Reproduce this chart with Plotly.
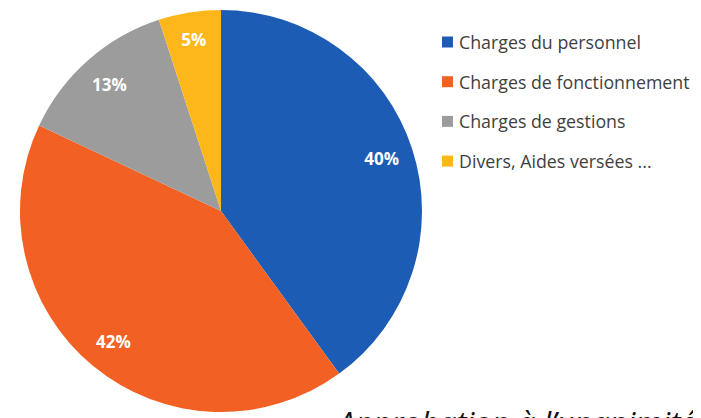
import plotly.graph_objects as go

# ---- data ----
categories = ["Charges du personnel", "Charges de fonctionnement",
              "Charges de gestions", "Divers, Aides versées ..."]
shares = [40, 42, 13, 5]
colors = ["#1C5CB4", "#F26024", "#9C9C9C", "#FDB71A"]
footer_text = "Approbation à l’unanimité"

W, H = 701, 418
OFF = 8  # page body margin shift


def px_x(x):
    return (x - OFF) / W


def px_y(y):
    return 1 - (y - OFF) / H


domain = dict(x=[px_x(20), px_x(422)], y=[px_y(412), px_y(10)])

fig = go.Figure()

# filled pie (no text)
fig.add_trace(go.Pie(
    labels=categories, values=shares, sort=False, direction="clockwise",
    rotation=0, marker=dict(colors=colors, line=dict(width=0)),
    textinfo="none", domain=domain, showlegend=False, hoverinfo="label+percent",
))

# transparent ring used only to place the percentage labels near the rim
fig.add_trace(go.Pie(
    labels=categories, values=shares, sort=False, direction="clockwise",
    rotation=0, hole=0.68,
    marker=dict(colors=["rgba(0,0,0,0)"] * len(shares), line=dict(width=0)),
    texttemplate="%{percent:.0%}", textposition="inside",
    insidetextorientation="horizontal",
    textfont=dict(family="Open Sans", size=17, color="#FFFFFF", weight="bold"),
    domain=domain, showlegend=False, hoverinfo="skip",
))

# manual legend
shapes = []
annotations = []
y0 = 42
step = 39.7
for i, (lab, col) in enumerate(zip(categories, colors)):
    yc = y0 + step * i
    shapes.append(dict(type="rect", xref="paper", yref="paper",
                       x0=px_x(442), x1=px_x(453),
                       y0=px_y(yc + 5.5), y1=px_y(yc - 5.5),
                       fillcolor=col, line=dict(width=0)))
    annotations.append(dict(text=lab, xref="paper", yref="paper",
                            x=px_x(457), y=px_y(yc), xanchor="left",
                            yanchor="middle", showarrow=False,
                            font=dict(family="Open Sans", size=17.8, color="#404040")))

annotations.append(dict(text=footer_text, xref="paper", yref="paper",
                        x=px_x(334), y=px_y(399), xanchor="left",
                        yanchor="top", showarrow=False,
                        font=dict(family="Open Sans", size=31, color="#111111",
                                  style="italic")))

fig.update_layout(
    width=W, height=H,
    margin=dict(l=0, r=0, t=0, b=0),
    paper_bgcolor="white", plot_bgcolor="white",
    shapes=shapes, annotations=annotations,
    showlegend=False,
)

fig.write_html("out.html")
